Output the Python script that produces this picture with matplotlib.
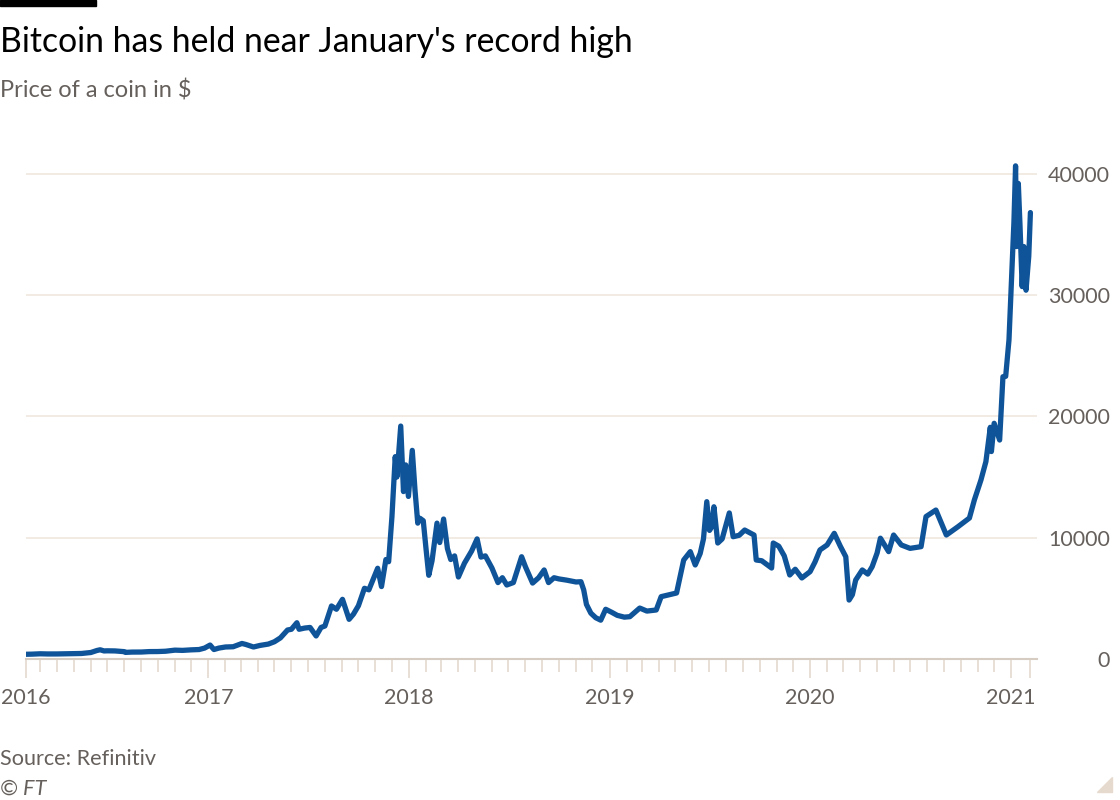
import numpy as np
import matplotlib
matplotlib.use("Agg")
import matplotlib.pyplot as plt
from matplotlib.patches import Polygon, Rectangle

plt.rcParams['font.family'] = ['Lato', 'DejaVu Sans']

# Bitcoin price (roughly weekly, denser where it moves a lot)
dates = [
    "2016-02-04", "2016-02-15", "2016-03-01", "2016-03-15", "2016-04-01", "2016-04-15",
    "2016-05-01", "2016-05-15", "2016-06-01", "2016-06-12", "2016-06-18", "2016-06-25",
    "2016-07-01", "2016-07-15", "2016-08-01", "2016-08-03", "2016-08-15", "2016-09-01",
    "2016-09-15", "2016-10-01", "2016-10-15", "2016-11-01", "2016-11-15", "2016-12-01",
    "2016-12-15", "2016-12-25", "2017-01-04", "2017-01-11", "2017-01-20", "2017-02-01",
    "2017-02-15", "2017-03-03", "2017-03-10", "2017-03-24", "2017-04-05", "2017-04-20",
    "2017-05-01", "2017-05-12", "2017-05-25", "2017-06-01", "2017-06-11", "2017-06-15",
    "2017-06-25", "2017-07-05", "2017-07-16", "2017-07-25", "2017-08-01", "2017-08-13",
    "2017-08-22", "2017-09-02", "2017-09-14", "2017-09-22", "2017-10-01", "2017-10-12",
    "2017-10-20", "2017-11-05", "2017-11-12", "2017-11-20", "2017-11-25", "2017-12-01",
    "2017-12-07", "2017-12-10", "2017-12-17", "2017-12-22", "2017-12-26", "2017-12-31",
    "2018-01-07", "2018-01-12", "2018-01-17", "2018-01-21", "2018-01-27", "2018-02-01",
    "2018-02-06", "2018-02-12", "2018-02-21", "2018-02-26", "2018-03-05", "2018-03-12",
    "2018-03-18", "2018-03-25", "2018-04-01", "2018-04-12", "2018-04-25", "2018-05-05",
    "2018-05-12", "2018-05-20", "2018-06-01", "2018-06-12", "2018-06-20", "2018-06-28",
    "2018-07-10", "2018-07-25", "2018-08-01", "2018-08-14", "2018-08-25", "2018-09-04",
    "2018-09-12", "2018-09-22", "2018-10-01", "2018-10-15", "2018-11-01", "2018-11-10",
    "2018-11-15", "2018-11-20", "2018-11-28", "2018-12-07", "2018-12-16", "2018-12-25",
    "2019-01-05", "2019-01-15", "2019-01-28", "2019-02-07", "2019-02-25", "2019-03-10",
    "2019-03-27", "2019-04-05", "2019-04-20", "2019-05-03", "2019-05-16", "2019-05-28",
    "2019-06-06", "2019-06-15", "2019-06-21", "2019-06-27", "2019-07-02", "2019-07-06",
    "2019-07-10", "2019-07-17", "2019-07-25", "2019-08-07", "2019-08-14", "2019-08-25",
    "2019-09-04", "2019-09-21", "2019-09-25", "2019-10-05", "2019-10-23", "2019-10-26",
    "2019-11-05", "2019-11-15", "2019-11-25", "2019-12-05", "2019-12-17", "2020-01-01",
    "2020-01-10", "2020-01-19", "2020-02-01", "2020-02-14", "2020-02-25", "2020-03-06",
    "2020-03-12", "2020-03-18", "2020-03-24", "2020-04-05", "2020-04-15", "2020-04-23",
    "2020-05-02", "2020-05-08", "2020-05-23", "2020-06-01", "2020-06-15", "2020-07-01",
    "2020-07-21", "2020-07-30", "2020-08-17", "2020-09-05", "2020-09-26", "2020-10-17",
    "2020-10-26", "2020-11-07", "2020-11-16", "2020-11-24", "2020-11-26", "2020-12-01",
    "2020-12-11", "2020-12-17", "2020-12-22", "2020-12-28", "2021-01-03", "2021-01-06",
    "2021-01-09", "2021-01-11", "2021-01-14", "2021-01-17", "2021-01-21", "2021-01-24",
    "2021-01-28", "2021-02-02", "2021-02-05",
]
prices = [
    390, 400, 430, 415, 417, 430,
    450, 455, 535, 700, 760, 665,
    675, 665, 605, 545, 570, 575,
    610, 615, 640, 730, 710, 755,
    780, 900, 1150, 780, 900, 990,
    1010, 1280, 1200, 990, 1120, 1230,
    1420, 1740, 2390, 2450, 2990, 2450,
    2550, 2600, 1900, 2600, 2720, 4370,
    4100, 4920, 3270, 3700, 4390, 5830,
    5700, 7480, 5970, 8200, 8020, 11730,
    16680, 15000, 19200, 13800, 16000, 13400,
    17200, 13900, 11200, 11600, 11400, 9100,
    6900, 8100, 11200, 9600, 11540, 9100,
    8200, 8500, 6760, 7900, 8900, 9900,
    8400, 8500, 7500, 6300, 6700, 6100,
    6300, 8430, 7600, 6260, 6700, 7340,
    6300, 6700, 6600, 6500, 6350, 6370,
    5700, 4500, 3780, 3400, 3200, 4100,
    3850, 3600, 3450, 3490, 4200, 3950,
    4040, 5140, 5300, 5440, 8160, 8850,
    7750, 8700, 9900, 12970, 10600, 10900,
    12550, 9560, 9900, 12040, 10080, 10200,
    10630, 10220, 8160, 8100, 7500, 9560,
    9300, 8500, 6925, 7400, 6680, 7200,
    8000, 8990, 9400, 10360, 9300, 8430,
    4860, 5300, 6510, 7340, 7000, 7610,
    8740, 9960, 8850, 10220, 9400, 9120,
    9260, 11740, 12280, 10220, 10900, 11620,
    13110, 14760, 16270, 19100, 17100, 19430,
    18050, 23270, 23300, 26300, 32900, 36000,
    40650, 34000, 39200, 35800, 30700, 34000,
    30400, 33200, 36800,
]

year_ticks = ["2016-02-04", "2017-01-01", "2018-01-01", "2019-01-01",
              "2020-01-01", "2021-01-01", "2021-02-04"]
year_labels = ["2016", "2017", "2018", "2019", "2020", "2021", ""]
y_ticks = [0, 10000, 20000, 30000, 40000]

BLUE = "#0F5499"
GREY = "#66605C"

x = np.array(dates, dtype="datetime64[D]")
fig = plt.figure(figsize=(11.2, 8), dpi=100)
fig.patch.set_facecolor("white")
ax = fig.add_axes([26 / 1120, 141 / 800, 1011 / 1120, 509.5 / 800])

ax.plot(x, prices, color=BLUE, lw=3.8, solid_joinstyle="round",
        solid_capstyle="round", zorder=3)

ax.set_xlim(np.datetime64("2016-02-04"), np.datetime64("2021-02-17"))
ax.set_ylim(0, 42000)

months = np.arange(np.datetime64("2016-03"), np.datetime64("2021-02"),
                   dtype="datetime64[M]").astype("datetime64[D]")
months = [m for m in months if str(m)[5:10] != "01-01"]
ax.set_xticks(np.array(year_ticks, dtype="datetime64[D]"))
ax.set_xticklabels(year_labels)
ax.set_xticks(np.array(months, dtype="datetime64[D]"), minor=True)
ax.tick_params(axis="x", which="major", length=13.7, width=1.2,
               color="#E4DAD0", labelsize=15.5, labelcolor=GREY, pad=7)
ax.tick_params(axis="x", which="minor", length=9.4, width=1.2,
               color="#E4DAD0")

ax.set_yticks(y_ticks)
ax.set_yticklabels([str(v) for v in y_ticks])
ax.yaxis.tick_right()
ax.tick_params(axis="y", length=0, labelsize=15.5, labelcolor=GREY, pad=52.5)
for t in ax.yaxis.get_major_ticks():
    t.label2.set_horizontalalignment("right")

ax.grid(axis="y", color="#EFE6DD", lw=1.1)
for s in ["top", "left", "right"]:
    ax.spines[s].set_visible(False)
ax.spines["bottom"].set_color("#D6CCC2")
ax.spines["bottom"].set_linewidth(1.5)
ax.set_axisbelow(True)

fig.patches.append(Rectangle((0, 1 - 6 / 800), 96 / 1120, 6 / 800,
                             transform=fig.transFigure, color="black"))
fig.patches.append(Polygon([(1112 / 1120, 23 / 800), (1112 / 1120, 8 / 800),
                            (1097 / 1120, 8 / 800)], closed=True,
                           transform=fig.transFigure, color="#E6D9CE"))

fig.text(0, 1 - 52 / 800, "Bitcoin has held near January's record high",
         fontsize=24.3, color="black", va="baseline", ha="left")
fig.text(0, 1 - 97 / 800, "Price of a coin in $", fontsize=17,
         color=GREY, va="baseline", ha="left")
fig.text(0, 1 - 765 / 800, "Source: Refinitiv", fontsize=15.6,
         color=GREY, va="baseline", ha="left")
fig.text(0, 1 - 795 / 800, "© FT", fontsize=15.6, style="italic",
         color=GREY, va="baseline", ha="left")

fig.savefig("out.png", dpi=100)
